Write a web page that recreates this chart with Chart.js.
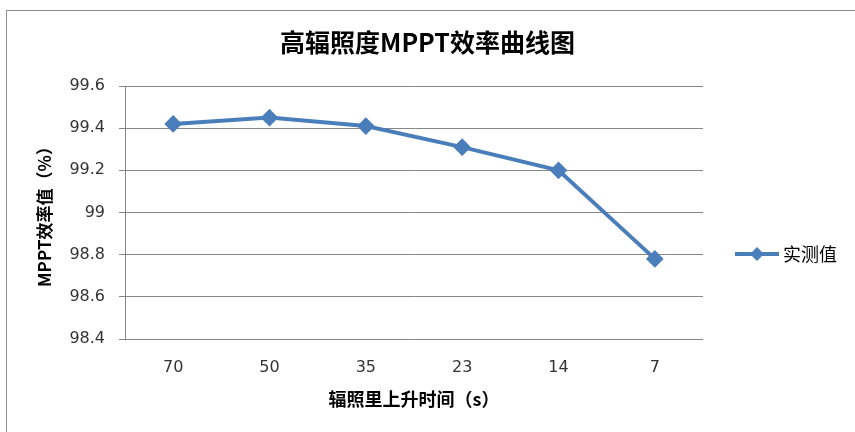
<!DOCTYPE html>
<html>
<head>
<meta charset="utf-8">
<script src="https://cdn.jsdelivr.net/npm/chart.js@4/dist/chart.umd.min.js"></script>
<style>
  html, body { margin: 0; padding: 0; background: #fff; }
  #wrap { width: 855px; height: 432px; position: relative; }
</style>
</head>
<body>
<div id="wrap"><canvas id="myChart" width="855" height="432"></canvas></div>
<script>
// 辐照上升时间 (s)
const categories = ["70", "50", "35", "23", "14", "7"];
// 实测值 MPPT效率 (%)
const measured = [99.42, 99.45, 99.41, 99.31, 99.2, 98.78];
const seriesName = "实测值";
const yMin = 98.4;
const yMax = 99.6;
const yStep = 0.2;

const cjk = "'Noto Sans CJK SC', 'Noto Sans', sans-serif";
const num = "'DejaVu Sans', 'Noto Sans CJK SC', sans-serif";
const blue = "#4A7EBB";

// frame + legend like the excel chart
const excelFrame = {
  id: "excelFrame",
  beforeDraw(chart) {
    const c = chart.ctx;
    c.save();
    c.fillStyle = "#fff";
    c.fillRect(0, 0, chart.width, chart.height);
    c.strokeStyle = "#8c8c8c";
    c.lineWidth = 1;
    c.strokeRect(6.5, 10.5, 900, 500);
    c.restore();
  },
  afterDraw(chart) {
    const c = chart.ctx;
    const y = 254;
    c.save();
    c.strokeStyle = blue;
    c.lineWidth = 4;
    c.beginPath();
    c.moveTo(735, y);
    c.lineTo(779, y);
    c.stroke();
    c.fillStyle = blue;
    c.beginPath();
    c.moveTo(757, y - 7);
    c.lineTo(764, y);
    c.lineTo(757, y + 7);
    c.lineTo(750, y);
    c.closePath();
    c.fill();
    c.fillStyle = "#000";
    c.font = "18px " + cjk;
    c.textBaseline = "middle";
    c.fillText(seriesName, 783, y);
    c.restore();
  },
};

const ctx = document.getElementById("myChart").getContext("2d");
const myChart = new Chart(ctx, {
  type: "line",
  data: {
    labels: categories,
    datasets: [
      {
        label: seriesName,
        data: measured,
        borderColor: blue,
        backgroundColor: blue,
        borderWidth: 4,
        pointStyle: "rectRot",
        pointRadius: 6,
        pointHoverRadius: 6,
        tension: 0,
      },
    ],
  },
  options: {
    responsive: false,
    animation: false,
    devicePixelRatio: 1,
    layout: { padding: 0 },
    plugins: {
      legend: { display: false },
      tooltip: { enabled: false },
      title: {
        display: true,
        text: "高辐照度MPPT效率曲线图",
        color: "#000",
        font: { family: cjk, size: 25, weight: "bold" },
        padding: { top: 27, bottom: 29 },
      },
    },
    scales: {
      x: {
        offset: true,
        grid: { display: false, drawTicks: false },
        border: { display: false },
        ticks: { color: "#333", font: { family: num, size: 16 }, padding: 19 },
        title: {
          display: true,
          text: "辐照里上升时间（s）",
          color: "#000",
          font: { family: cjk, size: 18, weight: "bold" },
          padding: { top: 0, bottom: 22 },
        },
        afterFit(scale) { scale.height = 93; },
      },
      y: {
        min: yMin,
        max: yMax,
        grid: { color: "#878787", lineWidth: 1, tickLength: 6 },
        border: { color: "#878787", width: 1 },
        ticks: {
          stepSize: yStep,
          color: "#333",
          font: { family: num, size: 16 },
          padding: 14,
          callback: (v) => String(parseFloat(v.toFixed(1))),
        },
        title: {
          display: true,
          text: "MPPT效率值（%）",
          color: "#000",
          font: { family: cjk, size: 17, weight: "bold" },
          padding: { top: 34, bottom: 0 },
        },
        afterFit(scale) { scale.width = 125; },
      },
      // empty axis on the right keeps room for the legend
      yRight: {
        position: "right",
        display: true,
        grid: { display: false, drawTicks: false },
        border: { display: false },
        ticks: { display: false },
        afterFit(scale) { scale.width = 152; },
      },
    },
  },
  plugins: [excelFrame],
});
</script>
</body>
</html>
